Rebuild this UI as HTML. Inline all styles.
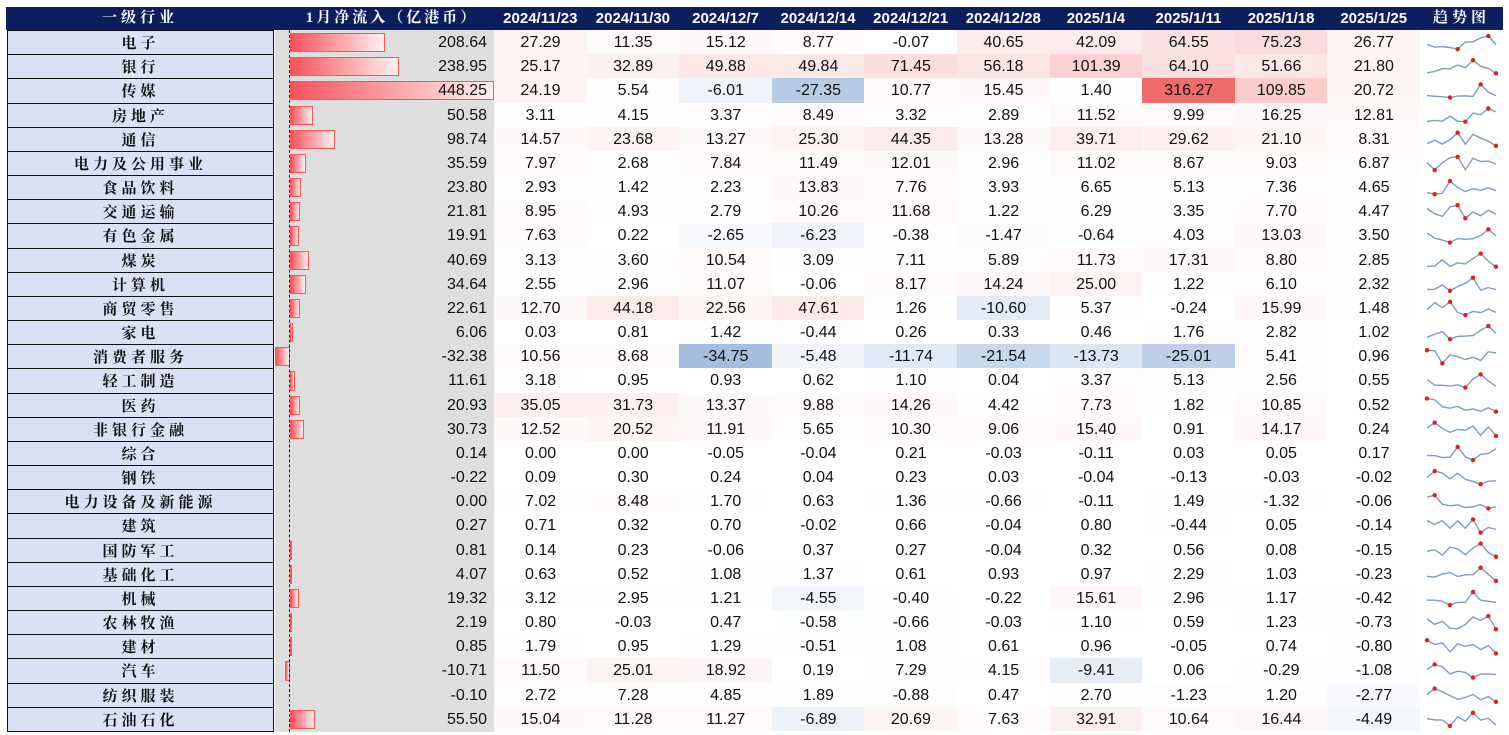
<!DOCTYPE html>
<html><head><meta charset="utf-8">
<style>
body{margin:0;width:1509px;height:735px;background:#fff;position:relative;overflow:hidden;font-family:"Liberation Sans","Noto Sans CJK SC",sans-serif;}
.a{position:absolute;box-sizing:border-box;}
.hd{color:#fff;font-weight:bold;font-size:15px;line-height:23px;text-align:center;}
.lbl{background:#d9e1f2;border:1.5px solid #111;font-family:"Liberation Serif","Noto Serif CJK SC",serif;font-size:15px;font-weight:bold;text-align:center;letter-spacing:4px;color:#111;padding-top:2px;}
.num{font-size:16px;color:#111;text-align:center;padding-top:2px;}
</style></head><body>
<div class="a" style="left:6px;top:7px;width:1497px;height:23px;background:#0b1f5e;"></div>
<div class="a" style="left:275px;top:30px;width:219px;height:702px;background:#dedede;"></div>
<svg class="a" id="spark" style="left:0;top:0" width="1509" height="735"></svg>
<script>
const industries=["电子","银行","传媒","房地产","通信","电力及公用事业","食品饮料","交通运输","有色金属","煤炭","计算机","商贸零售","家电","消费者服务","轻工制造","医药","非银行金融","综合","钢铁","电力设备及新能源","建筑","国防军工","基础化工","机械","农林牧渔","建材","汽车","纺织服装","石油石化"];
const janFlow=[208.64,238.95,448.25,50.58,98.74,35.59,23.80,21.81,19.91,40.69,34.64,22.61,6.06,-32.38,11.61,20.93,30.73,0.14,-0.22,0.00,0.27,0.81,4.07,19.32,2.19,0.85,-10.71,-0.10,55.50];
const dates=["2024/11/23","2024/11/30","2024/12/7","2024/12/14","2024/12/21","2024/12/28","2025/1/4","2025/1/11","2025/1/18","2025/1/25"];
const weekly=[
[27.29,11.35,15.12,8.77,-0.07,40.65,42.09,64.55,75.23,26.77],
[25.17,32.89,49.88,49.84,71.45,56.18,101.39,64.10,51.66,21.80],
[24.19,5.54,-6.01,-27.35,10.77,15.45,1.40,316.27,109.85,20.72],
[3.11,4.15,3.37,8.49,3.32,2.89,11.52,9.99,16.25,12.81],
[14.57,23.68,13.27,25.30,44.35,13.28,39.71,29.62,21.10,8.31],
[7.97,2.68,7.84,11.49,12.01,2.96,11.02,8.67,9.03,6.87],
[2.93,1.42,2.23,13.83,7.76,3.93,6.65,5.13,7.36,4.65],
[8.95,4.93,2.79,10.26,11.68,1.22,6.29,3.35,7.70,4.47],
[7.63,0.22,-2.65,-6.23,-0.38,-1.47,-0.64,4.03,13.03,3.50],
[3.13,3.60,10.54,3.09,7.11,5.89,11.73,17.31,8.80,2.85],
[2.55,2.96,11.07,-0.06,8.17,14.24,25.00,1.22,6.10,2.32],
[12.70,44.18,22.56,47.61,1.26,-10.60,5.37,-0.24,15.99,1.48],
[0.03,0.81,1.42,-0.44,0.26,0.33,0.46,1.76,2.82,1.02],
[10.56,8.68,-34.75,-5.48,-11.74,-21.54,-13.73,-25.01,5.41,0.96],
[3.18,0.95,0.93,0.62,1.10,0.04,3.37,5.13,2.56,0.55],
[35.05,31.73,13.37,9.88,14.26,4.42,7.73,1.82,10.85,0.52],
[12.52,20.52,11.91,5.65,10.30,9.06,15.40,0.91,14.17,0.24],
[0.00,0.00,-0.05,-0.04,0.21,-0.03,-0.11,0.03,0.05,0.17],
[0.09,0.30,0.24,0.04,0.23,0.03,-0.04,-0.13,-0.03,-0.02],
[7.02,8.48,1.70,0.63,1.36,-0.66,-0.11,1.49,-1.32,-0.06],
[0.71,0.32,0.70,-0.02,0.66,-0.04,0.80,-0.44,0.05,-0.14],
[0.14,0.23,-0.06,0.37,0.27,-0.04,0.32,0.56,0.08,-0.15],
[0.63,0.52,1.08,1.37,0.61,0.93,0.97,2.29,1.03,-0.23],
[3.12,2.95,1.21,-4.55,-0.40,-0.22,15.61,2.96,1.17,-0.42],
[0.80,-0.03,0.47,-0.58,-0.66,-0.03,1.10,0.59,1.23,-0.73],
[1.79,0.95,1.29,-0.51,1.08,0.61,0.96,-0.05,0.74,-0.80],
[11.50,25.01,18.92,0.19,7.29,4.15,-9.41,0.06,-0.29,-1.08],
[2.72,7.28,4.85,1.89,-0.88,0.47,2.70,-1.23,1.20,-2.77],
[15.04,11.28,11.27,-6.89,20.69,7.63,32.91,10.64,16.44,-4.49]];

const top0=30, rowH=24.17, colX0=494, colW=92.6, zeroX=290, barScale=204/448.25;
const posMax=316.27, negMax=34.75;
function yRow(i){return top0+i*rowH;}
function xCol(j){return colX0+j*colW;}
function xBar(v){return zeroX+v*barScale;}
function heat(v){
  if(v>=0){const t=Math.min(v/posMax,1);return `rgb(${Math.round(255-t*(255-240))},${Math.round(255-t*(255-108))},${Math.round(255-t*(255-108))})`;}
  const t=Math.min(-v/negMax,1);return `rgb(${Math.round(255-t*(255-164))},${Math.round(255-t*(255-190))},${Math.round(255-t*(255-224))})`;
}
function mk(name,css,txt,cls){
  const d=document.createElement('div');
  d.className='a '+(cls||'');
  d.style.cssText=css;
  if(txt!==undefined)d.textContent=txt;
  
  
  document.body.appendChild(d);return d;
}
mk('header-industry','left:7px;top:7px;width:266px;height:23px;letter-spacing:4px;font-family:"Liberation Serif","Noto Serif CJK SC",serif;','一级行业','hd');
mk('header-jan-flow','left:290px;top:7px;width:204px;height:23px;letter-spacing:3px;font-family:"Liberation Serif","Noto Serif CJK SC",serif;','1月净流入（亿港币）','hd');
dates.forEach((d,j)=>{mk('header-date','left:'+xCol(j)+'px;top:7px;width:'+colW+'px;height:23px;',d,'hd');});
mk('header-trend','left:1420px;top:7px;width:83px;height:23px;letter-spacing:4px;font-family:"Liberation Serif","Noto Serif CJK SC",serif;','趋势图','hd');

industries.forEach((n,i)=>{
  const y=yRow(i);
  mk('industry-label','left:7px;top:'+y+'px;width:267px;height:'+(rowH+1.5)+'px;line-height:'+(rowH-2)+'px;',n,'lbl');
  const v=janFlow[i];
  const x1=Math.min(xBar(v),zeroX), w=Math.abs(xBar(v)-zeroX);
  if(w>0.3){
    mk('flow-bar','left:'+x1+'px;top:'+(y+3)+'px;width:'+w+'px;height:'+(rowH-5)+'px;background:linear-gradient(to right,#f7525a,#fff0f0);border:1px solid #f55;');
  }
  mk('flow-value','left:300px;top:'+y+'px;width:187px;height:'+rowH+'px;line-height:'+(rowH-2)+'px;text-align:right;',v.toFixed(2),'num');
  weekly[i].forEach((val,j)=>{
    mk('weekly-cell','left:'+xCol(j)+'px;top:'+y+'px;width:'+(colW+0.5)+'px;height:'+(rowH+0.5)+'px;line-height:'+(rowH-2)+'px;background:'+heat(val)+';',val.toFixed(2),'num');
  });
});
mk('zero-line','left:289px;top:30px;width:0;height:702px;border-left:1.5px dashed #222;');

const svg=document.getElementById('spark');const NS='http://www.w3.org/2000/svg';
weekly.forEach((vals,i)=>{
  const mn=Math.min(...vals),mx=Math.max(...vals);
  const y=yRow(i);
  const px=k=>1427+k*(69/9);
  const py=v=>y+rowH-5-(mx===mn?0:(v-mn)/(mx-mn))*(rowH-11);
  const pl=document.createElementNS(NS,'polyline');
  pl.setAttribute('points',vals.map((v,k)=>px(k)+','+py(v)).join(' '));
  pl.setAttribute('fill','none');pl.setAttribute('stroke','#7f9cc0');pl.setAttribute('stroke-width','1.4');
  
  
  svg.appendChild(pl);
  [vals.indexOf(mx),vals.indexOf(mn)].forEach(k=>{
    const c=document.createElementNS(NS,'circle');
    c.setAttribute('cx',px(k));c.setAttribute('cy',py(vals[k]));c.setAttribute('r','2.2');c.setAttribute('fill','#e02020');
    
    
    svg.appendChild(c);
  });
});
document.body.appendChild(svg);
</script>
</body></html>
